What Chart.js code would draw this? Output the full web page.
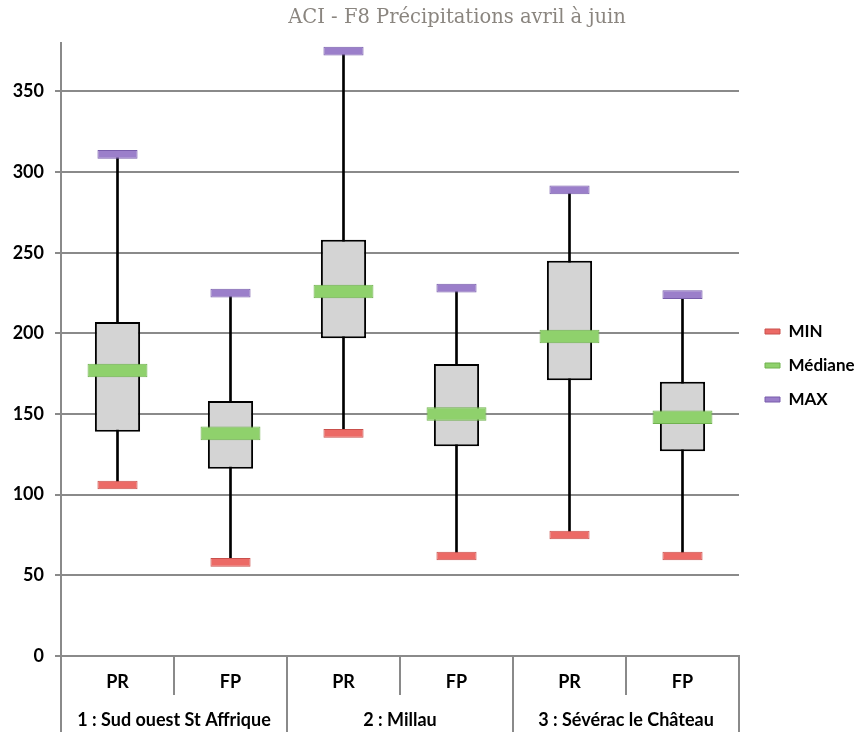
<!DOCTYPE html>
<html><head><meta charset="utf-8">
<script src="https://cdn.jsdelivr.net/npm/chart.js@4.4.1/dist/chart.umd.min.js"></script>
<style>html,body{margin:0;padding:0;background:#fff}#wrap{width:856px;height:738px;position:relative}</style>
</head><body><div id="wrap"><canvas id="c"></canvas></div>
<script>
const TITLE = 'ACI - F8 Précipitations avril à juin';
const categories = ['PR', 'FP', 'PR', 'FP', 'PR', 'FP'];
const groups = ['1 : Sud ouest St Affrique', '2 : Millau', '3 : Sévérac le Château'];
const minValues = [106, 58, 138, 62, 75, 62];
const q1Values = [139, 116, 197, 130, 171, 127];
const medianValues = [177, 138, 226, 150, 198, 148];
const q3Values = [207, 158, 258, 181, 245, 170];
const maxValues = [311, 225, 375, 228, 289, 224];
const yTicks = [0, 50, 100, 150, 200, 250, 300, 350];

const GRID = '#8a8a8a';
const FONT = {family: 'Lato', weight: 'bold', size: 18};
const band = (v, h) => [v - h, v + h];

const titlePlugin = {
  id: 'titleText',
  afterDraw(chart) {
    const ctx = chart.ctx;
    ctx.save();
    ctx.font = '19.5px "DejaVu Serif"';
    ctx.fillStyle = '#8a857f';
    ctx.textAlign = 'center';
    ctx.textBaseline = 'alphabetic';
    ctx.fillText(TITLE, 457, 23);
    ctx.restore();
  }
};

const common = {xAxisID: 'x', yAxisID: 'y', grouped: false, categoryPercentage: 1, borderSkipped: false};

new Chart(document.getElementById('c'), {
  type: 'bar',
  data: {
    labels: categories,
    datasets: [
      Object.assign({label: 'MIN', data: minValues.map(v => band(v, 2.7)), backgroundColor: '#ec6a66', borderColor: '#c9504c', borderWidth: 1, barPercentage: 0.355, order: 0}, common),
      Object.assign({label: 'Médiane', data: medianValues.map(v => band(v, 4.2)), backgroundColor: '#8fd16c', borderColor: '#70b14f', borderWidth: 1, barPercentage: 0.53, order: 1}, common),
      Object.assign({label: 'MAX', data: maxValues.map(v => band(v, 2.7)), backgroundColor: '#9b7fca', borderColor: '#785dab', borderWidth: 1, barPercentage: 0.355, order: 2}, common),
      Object.assign({label: 'Boîte', data: q1Values.map((v, i) => [v, q3Values[i]]), backgroundColor: '#d4d4d4', borderColor: '#000', borderWidth: 2, barPercentage: 0.4, order: 3}, common),
      Object.assign({label: 'Moustache', data: minValues.map((v, i) => [v, maxValues[i]]), backgroundColor: '#000', borderWidth: 0, barThickness: 2, order: 4}, common)
    ]
  },
  options: {
    responsive: true,
    maintainAspectRatio: false,
    animation: false,
    layout: {padding: {top: 43, bottom: 6, left: 0, right: 0}},
    plugins: {
      title: {display: false},
      tooltip: {enabled: false},
      legend: {
        position: 'right',
        fullSize: false,
        maxWidth: 108,
        title: {display: true, text: '', padding: {top: 20, bottom: 0}, font: {size: 10, lineHeight: 1.2}},
        labels: {
          filter: item => item.datasetIndex < 3,
          boxWidth: 15, boxHeight: 5, padding: 17,
          color: '#000', font: {family: 'Lato', weight: 'bold', size: 17}
        }
      }
    },
    scales: {
      x: {
        type: 'category', labels: categories, position: 'bottom', offset: true,
        grid: {offset: true, drawOnChartArea: false, tickLength: 39, color: GRID, lineWidth: 2},
        border: {display: true, color: GRID, width: 2},
        ticks: {padding: -24, font: FONT, color: '#000', maxRotation: 0, autoSkip: false},
        afterFit: s => { s.height = 39; }
      },
      x2: {
        type: 'category', labels: groups, position: 'bottom', offset: true,
        grid: {offset: true, drawOnChartArea: false, tickLength: 37, color: GRID, lineWidth: 2},
        border: {display: false},
        ticks: {padding: -23, font: FONT, color: '#000', maxRotation: 0, autoSkip: false},
        afterFit: s => { s.height = 37; }
      },
      y: {
        min: 0, max: 380, position: 'left',
        afterBuildTicks: s => { s.ticks = yTicks.map(v => ({value: v})); },
        grid: {color: GRID, lineWidth: 2, tickLength: 6},
        border: {color: GRID, width: 2},
        ticks: {padding: 11, font: FONT, color: '#000'},
        afterFit: s => { s.width = 61; }
      },
      spacer: {
        type: 'linear', position: 'right', display: true,
        grid: {display: false}, border: {display: false}, ticks: {display: false},
        afterFit: s => { s.width = 9; }
      }
    }
  },
  plugins: [titlePlugin]
});
</script></body></html>
